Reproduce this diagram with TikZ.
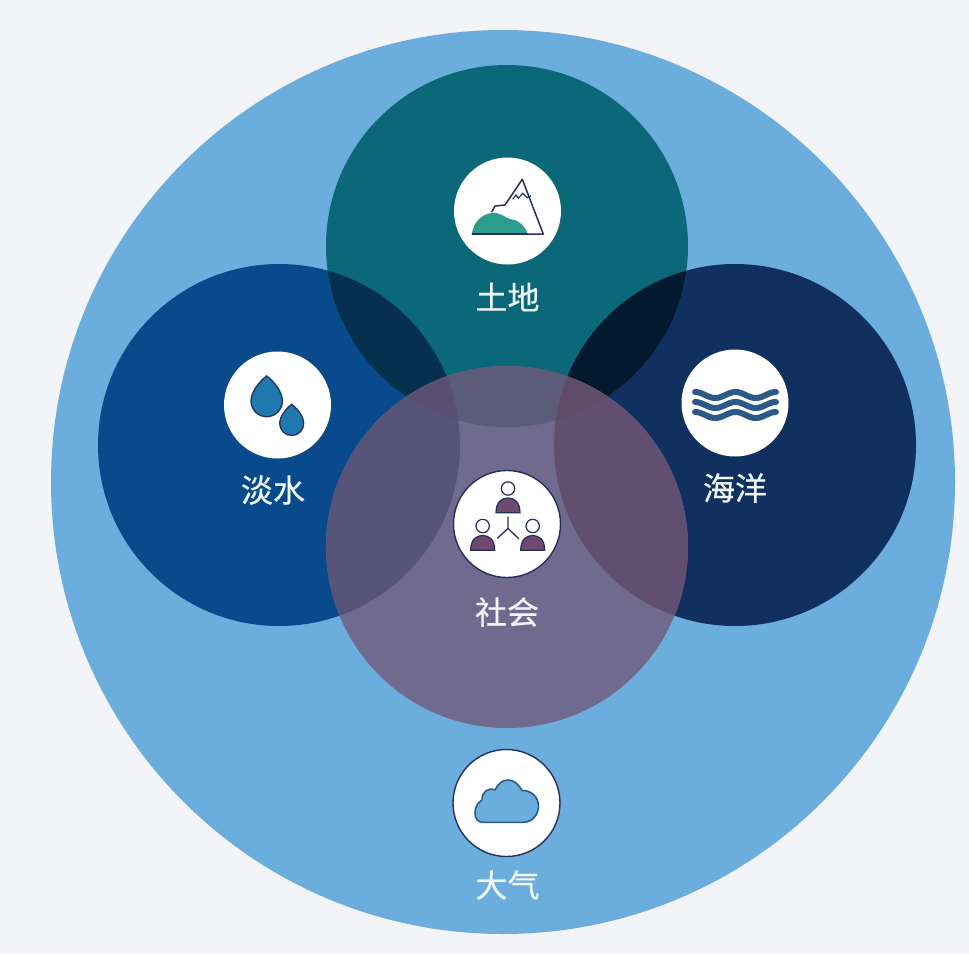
\documentclass[tikz,border=0pt]{standalone}
\usepackage{fontspec}
\newfontfamily\cjk[FakeBold=0.5]{Noto Sans CJK SC}
\definecolor{pagebg}{HTML}{F2F4F7}
\definecolor{airblue}{HTML}{6BADDC}
\definecolor{landteal}{HTML}{0A6878}
\definecolor{freshblue}{HTML}{084A8C}
\definecolor{oceanblue}{HTML}{10305F}
\definecolor{socpurple}{HTML}{6F6A8E}
\definecolor{landfresh}{HTML}{07304F}
\definecolor{landocean}{HTML}{03192F}
\definecolor{socfresh}{HTML}{565479}
\definecolor{sococean}{HTML}{604F70}
\definecolor{socland}{HTML}{5C5C7A}
\definecolor{soclandfresh}{HTML}{594F70}
\definecolor{soclandocean}{HTML}{604C68}
\definecolor{inkline}{HTML}{252F5C}
\definecolor{hillgreen}{HTML}{2B9C8E}
\definecolor{dropblue}{HTML}{1F78AE}
\definecolor{wavecolor}{HTML}{2C5A88}
\definecolor{bodycolor}{HTML}{6E4A6E}
\definecolor{labeltext}{HTML}{EEF6F8}
\tikzset{
  iconbg/.style={circle,fill=white,minimum size=107pt,inner sep=0pt},
  biglabel/.style={text=labeltext,font=\cjk\fontsize{32}{32}\selectfont,inner sep=0pt},
  wave/.style={line width=6pt,line cap=round,color=wavecolor},
}
\begin{document}
\begin{tikzpicture}[x=1pt,y=-1pt]
  \useasboundingbox (0,0) rectangle (969,953);
  \fill[pagebg] (0,0) rectangle (969,953);
  \fill[airblue] (503,482) circle [radius=452];
  \fill[freshblue] (279,445) circle [radius=181];
  \fill[oceanblue] (735,445) circle [radius=181];
  \fill[landteal] (507,246) circle [radius=181];
  % overlaps with the land circle
  \begin{scope}
    \clip (507,246) circle [radius=181];
    \fill[landfresh] (279,445) circle [radius=181];
    \fill[landocean] (735,445) circle [radius=181];
  \end{scope}
  % society circle and its overlaps
  \fill[socpurple] (507,547) circle [radius=181];
  \begin{scope}
    \clip (507,547) circle [radius=181];
    \fill[socfresh] (279,445) circle [radius=181];
    \fill[sococean] (735,445) circle [radius=181];
    \fill[socland] (507,246) circle [radius=181];
    \clip (507,246) circle [radius=181];
    \fill[soclandfresh] (279,445) circle [radius=181];
    \fill[soclandocean] (735,445) circle [radius=181];
  \end{scope}
  % icon discs
  \node[iconbg] (landicon) at (507.5,211) {};
  \node[iconbg] (freshicon) at (277.5,405) {};
  \node[iconbg] (oceanicon) at (735,403) {};
  \node[iconbg,draw=inkline,line width=1.4pt] (socicon) at (507,524) {};
  \node[iconbg,draw=inkline,line width=1.4pt] (airicon) at (506.5,803) {};
  % labels
  \node[biglabel] (landlabel) at (507.5,297) {土地};
  \node[biglabel] (freshlabel) at (273,490) {淡水};
  \node[biglabel] (oceanlabel) at (735,488) {海洋};
  \node[biglabel] (soclabel) at (507,612) {社会};
  \node[biglabel] (airlabel) at (507.5,885) {大气};
  % land icon
  \draw[inkline,line width=1.5pt,line join=round] (471.7,234) -- (543.3,234) -- (522.3,179.3) -- (505,205) -- (495,206) -- (491.7,212);
  \draw[inkline,line width=1.2pt] (512.7,199.3) -- (516,195) -- (518.3,198.3) -- (522.7,193.3) -- (527.3,197.7) -- (531,196);
  \fill[hillgreen] (472,234) .. controls (473,222) and (482,214) .. (492,213) .. controls (500,212) and (504,217) .. (510,219) .. controls (520,220) and (526,228) .. (527.5,234) -- cycle;
  \draw[inkline,line width=1.5pt] (472,234) -- (527.5,234);
  % fresh water drops
  \foreach \dx/\dy/\dr in {266.7/401/15.7,291.7/423.5/12}
    \draw[fill=dropblue,draw=inkline,line width=1.3pt]
      (\dx,\dy-1.6*\dr) .. controls (\dx+0.45*\dr,\dy-1.25*\dr) and (\dx+\dr,\dy-0.6*\dr) .. (\dx+\dr,\dy)
      arc [start angle=0,end angle=180,radius=\dr]
      .. controls (\dx-\dr,\dy-0.6*\dr) and (\dx-0.45*\dr,\dy-1.25*\dr) .. cycle;
  % ocean waves
  \foreach \wy in {392,402,412}
    \draw[wave] plot[domain=695:776,samples=60] (\x,{\wy+3-3*cos(8.89*(\x-695))});
  % people
  \foreach \px/\py in {508/488.5,482.7/526,532.7/526} {
    \draw[inkline,fill=white,line width=1.2pt] (\px,\py) circle [radius=6.7];
    \draw[inkline,fill=bodycolor,line width=1.2pt] (\px-12,\py+24.3) .. controls (\px-12,\py+13) and (\px-6,\py+9.5) .. (\px,\py+9.5) .. controls (\px+6,\py+9.5) and (\px+12,\py+13) .. (\px+12,\py+24.3) -- cycle;
  }
  \draw[inkline,line width=1.3pt] (508,516.7) -- (508,528.3) -- (497.3,538.3);
  \draw[inkline,line width=1.3pt] (508,528.3) -- (519,539);
  % cloud
  \draw[fill=airblue,draw=wavecolor,line width=1.6pt,line join=round]
    (483,822.3) -- (523,822.3) .. controls (532,822.3) and (538.5,815) .. (538.5,806)
    .. controls (538.5,797) and (531,790) .. (522,790.5) .. controls (518,783) and (513,780) .. (508,780)
    .. controls (502,780) and (498,784) .. (495,790) .. controls (488,787) and (482,792) .. (482,800)
    .. controls (477,803) and (475,808) .. (475,813) .. controls (475,819) and (478,822.3) .. (483,822.3) -- cycle;
\end{tikzpicture}
\end{document}
